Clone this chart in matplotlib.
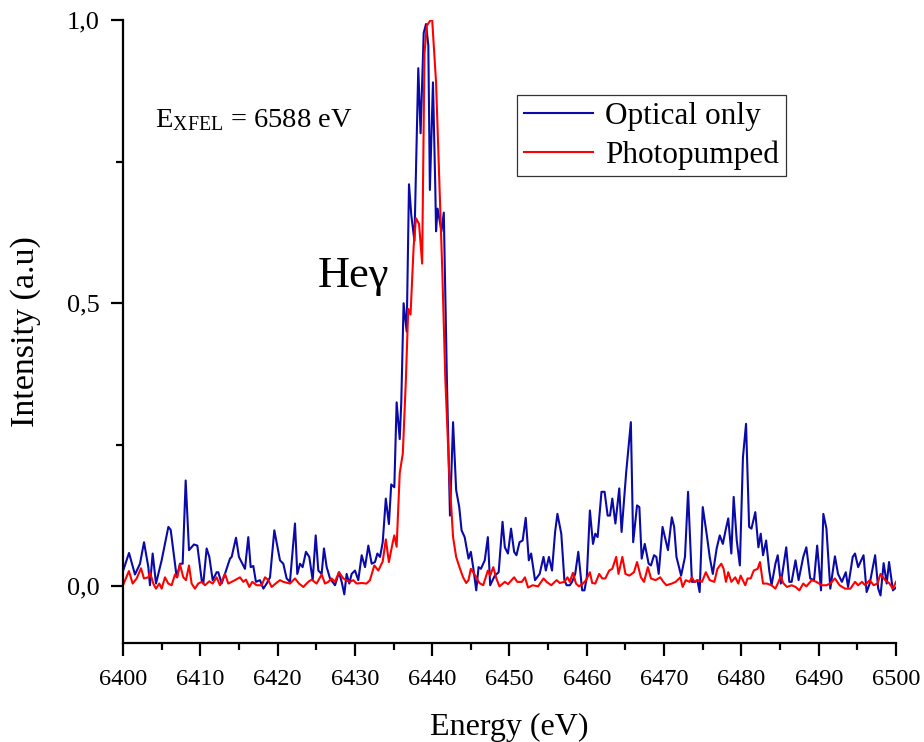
import matplotlib
matplotlib.use("Agg")
import matplotlib.pyplot as plt
from matplotlib.ticker import MultipleLocator, FuncFormatter

plt.rcParams['font.family'] = ['Liberation Serif', 'DejaVu Serif']
plt.rcParams['mathtext.fontset'] = 'custom'
plt.rcParams['mathtext.rm'] = 'Liberation Serif'
plt.rcParams['mathtext.it'] = 'Liberation Serif:italic'

# ---------------- data ----------------
optical_energy = [
    6400.0, 6400.78, 6401.55, 6402.2, 6402.72, 6403.28, 6403.49, 6403.84, 6404.27, 6405.0,
    6405.87, 6406.17, 6406.95, 6407.38, 6407.72, 6408.11, 6408.54, 6409.18, 6409.62, 6410.18,
    6410.39, 6410.82, 6411.17, 6411.6, 6412.12, 6412.33, 6412.76, 6413.19, 6413.84, 6414.06,
    6414.62, 6415.0, 6415.78, 6416.21, 6416.52, 6416.86, 6417.2, 6417.72, 6418.16, 6418.59,
    6419.02, 6419.58, 6420.1, 6420.31, 6420.74, 6421.17, 6421.6, 6422.25, 6422.55, 6422.9,
    6423.24, 6423.67, 6424.1, 6424.54, 6424.93, 6425.27, 6425.7, 6426.0, 6426.35, 6426.78,
    6427.43, 6427.94, 6428.29, 6428.63, 6428.93, 6429.28, 6429.58, 6430.01, 6430.44, 6430.88,
    6431.31, 6431.74, 6432.17, 6432.6, 6432.91, 6433.25,
    6433.6, 6434.0, 6434.4, 6434.7, 6435.1, 6435.4, 6435.8, 6436.0, 6436.3, 6436.7,
    6437.0, 6437.3, 6437.7, 6438.2, 6438.5, 6438.7, 6438.9, 6439.2, 6439.5, 6439.7,
    6440.1, 6440.4, 6440.5, 6440.7, 6441.2, 6441.5, 6441.9,
    6442.3, 6442.7, 6443.1, 6443.5, 6443.8, 6444.2, 6444.7, 6445.0, 6445.3, 6445.7,
    6446.0, 6446.3, 6446.8, 6447.2, 6447.5, 6448.1, 6448.6, 6449.1, 6449.4, 6449.8,
    6450.2, 6450.6, 6450.9, 6451.3, 6451.7, 6452.1, 6452.5, 6452.8, 6453.3, 6453.9,
    6454.4, 6454.7, 6455.1, 6455.5, 6455.9, 6456.2, 6456.7, 6457.1, 6457.4, 6457.8,
    6458.1, 6458.5, 6458.9, 6459.4, 6459.7, 6460.0, 6460.4, 6460.8, 6461.1, 6461.4,
    6461.9, 6462.3, 6462.7, 6463.0, 6463.3, 6463.7, 6464.2, 6464.5, 6465.1, 6465.7,
    6466.0, 6466.5, 6466.8, 6467.1, 6467.5, 6468.0, 6468.3, 6468.7, 6469.0, 6469.3,
    6469.8, 6470.5, 6471.0, 6471.3, 6471.6, 6472.2, 6472.7, 6473.1, 6473.6, 6474.0,
    6474.3, 6474.6, 6475.0, 6475.5, 6475.9, 6476.3, 6476.8, 6477.2, 6477.6, 6478.0,
    6478.3, 6478.7, 6479.0, 6479.4, 6479.8, 6480.2, 6480.6, 6481.0, 6481.3, 6481.8,
    6482.2, 6482.5, 6482.8, 6483.2, 6483.6, 6483.9, 6484.4, 6484.7, 6485.1, 6485.8,
    6486.2, 6486.5, 6487.0, 6487.4, 6488.0, 6488.4, 6488.9, 6489.4, 6489.8, 6490.3,
    6490.6, 6491.0, 6491.5, 6492.1, 6492.5, 6493.0, 6493.5, 6493.8, 6494.4, 6494.7,
    6495.1, 6495.8, 6496.2, 6496.6, 6497.3, 6497.7, 6498.0, 6498.4, 6498.8, 6499.1,
    6499.6, 6500.0,
]
optical_intensity = [
    0.027, 0.059, 0.021, 0.040, 0.078, 0.034, 0.002, 0.058, 0.005, 0.046,
    0.105, 0.100, 0.016, 0.040, 0.040, 0.187, 0.064, 0.074, 0.072, 0.011,
    0.005, 0.067, 0.052, 0.011, 0.025, 0.025, 0.005, 0.022, 0.049, 0.052,
    0.086, 0.052, 0.031, 0.087, 0.034, 0.036, 0.008, 0.011, -0.004, 0.005,
    0.016, 0.099, 0.061, 0.046, 0.040, 0.014, 0.008, 0.111, 0.022, 0.040,
    0.034, 0.061, 0.052, 0.011, 0.090, 0.028, 0.022, 0.067, 0.034, 0.014,
    0.002, 0.025, 0.008, -0.014, 0.022, 0.005, 0.022, 0.028, 0.011, 0.055,
    0.034, 0.072, 0.040, 0.043, 0.058, 0.052,
    0.078, 0.155, 0.110, 0.180, 0.175, 0.325, 0.260, 0.325, 0.500, 0.450,
    0.710, 0.655, 0.610, 0.915, 0.800, 0.890, 0.977, 0.993, 0.955, 0.700,
    0.890, 0.705, 0.627, 0.667, 0.627, 0.660, 0.366,
    0.125, 0.290, 0.170, 0.140, 0.099, 0.087, 0.049, 0.061, 0.034, -0.007,
    0.034, 0.031, 0.046, 0.087, 0.002, 0.019, 0.025, 0.114, 0.069, 0.058,
    0.102, 0.061, 0.055, 0.078, 0.081, 0.121, 0.046, 0.058, 0.011, 0.022,
    0.052, 0.028, 0.052, 0.028, 0.096, 0.128, 0.093, 0.011, 0.002, 0.002,
    0.008, 0.022, 0.061, -0.007, -0.007, 0.016, 0.134, 0.075, 0.093, 0.087,
    0.167, 0.167, 0.125, 0.125, 0.155, 0.111, 0.173, 0.096, 0.202, 0.290,
    0.078, 0.143, 0.140, 0.049, 0.075, 0.040, 0.037, 0.055, 0.052, 0.022,
    0.105, 0.064, 0.122, 0.105, 0.052, 0.019, 0.052, 0.167, 0.008, 0.008,
    0.011, -0.010, 0.140, 0.093, 0.052, 0.022, 0.067, 0.090, 0.075, 0.102,
    0.120, 0.058, 0.158, 0.081, 0.037, 0.228, 0.287, 0.105, 0.102, 0.131,
    0.069, 0.093, 0.055, 0.081, 0.028, 0.002, 0.040, 0.055, 0.005, 0.069,
    0.008, 0.008, 0.046, 0.011, 0.052, 0.069, 0.014, 0.011, 0.072, -0.007,
    0.128, 0.102, -0.004, 0.053, 0.022, 0.008, 0.025, -0.001, 0.052, 0.058,
    0.034, 0.055, -0.010, 0.005, 0.055, -0.004, -0.016, 0.041, 0.005, 0.043,
    -0.007, -0.002,
]

pumped_energy = [
    6400.0, 6400.77, 6401.25, 6401.77, 6402.33, 6402.71, 6403.28, 6403.49, 6403.92, 6404.27,
    6404.7, 6405.0, 6405.43, 6405.86, 6406.29, 6406.73, 6407.03, 6407.37, 6407.8, 6408.15,
    6408.54, 6408.88, 6409.31, 6409.74, 6410.17, 6410.61, 6411.17, 6411.6, 6412.11, 6412.55,
    6413.19, 6413.62, 6414.49, 6415.13, 6415.57, 6415.91, 6416.34, 6416.73, 6417.29, 6417.94,
    6418.37, 6418.8, 6419.23, 6419.75, 6420.31, 6420.74, 6421.6, 6422.25, 6422.77, 6423.33,
    6423.97, 6424.4, 6425.05, 6425.7, 6426.13, 6426.56, 6426.99, 6427.42, 6427.94, 6428.5,
    6428.85, 6429.36, 6429.79, 6430.23, 6430.87, 6431.5, 6431.95, 6432.51, 6433.03,
    6433.6, 6434.0, 6434.4, 6434.9, 6435.1, 6435.4, 6435.8, 6436.2, 6436.6, 6436.9,
    6437.2, 6437.6, 6437.9, 6438.3, 6438.7, 6439.0, 6439.3, 6439.8, 6440.0, 6440.5,
    6440.9, 6441.3, 6441.7, 6442.2,
    6442.7, 6443.1, 6443.6, 6444.0, 6444.4, 6444.7, 6445.0, 6445.3, 6445.7, 6446.1,
    6446.6, 6447.2, 6447.5, 6447.9, 6448.3, 6448.7, 6449.4, 6449.8, 6450.6, 6451.0,
    6451.6, 6452.0, 6452.4, 6453.0, 6453.7, 6454.4, 6454.8, 6455.4, 6456.1, 6456.5,
    6457.1, 6457.5, 6457.8, 6458.2, 6458.6, 6459.0, 6459.5, 6459.9, 6460.4, 6460.7,
    6461.1, 6461.6, 6462.0, 6462.4, 6462.9, 6463.3, 6463.8, 6464.1, 6464.6, 6465.0,
    6465.5, 6466.1, 6466.5, 6467.0, 6467.4, 6467.9, 6468.3, 6468.9,
    6469.5, 6469.9, 6470.3, 6471.0, 6471.5, 6472.1, 6472.4, 6472.8, 6473.3, 6473.6,
    6473.9, 6474.4, 6474.9, 6475.4, 6475.9, 6476.5, 6476.9, 6477.4, 6477.7, 6478.0,
    6478.3, 6478.7, 6479.2, 6479.6, 6479.9, 6480.5, 6480.8, 6481.2, 6481.6, 6482.1,
    6482.4, 6482.8, 6483.3, 6483.9, 6484.4, 6484.8, 6485.1, 6485.4, 6485.9, 6486.5,
    6487.0, 6487.5, 6488.0, 6488.4, 6489.1, 6489.7, 6490.4, 6491.0, 6491.5, 6492.1,
    6492.7, 6493.4, 6494.1, 6494.7, 6495.1, 6495.6, 6496.0, 6496.6, 6497.1, 6497.6,
    6498.0, 6498.6, 6499.1, 6499.6, 6500.0,
]
pumped_intensity = [
    0.002, 0.027, 0.005, 0.014, 0.032, 0.014, 0.016, 0.025, 0.005, -0.004,
    0.005, -0.004, 0.016, 0.005, 0.002, 0.021, 0.016, 0.039, 0.016, 0.011,
    0.037, 0.005, -0.004, 0.005, 0.008, 0.002, 0.009, 0.005, 0.016, 0.002,
    0.022, 0.005, 0.011, 0.016, 0.008, 0.012, -0.001, 0.008, 0.002, 0.002,
    0.016, 0.011, -0.001, 0.005, 0.011, 0.008, 0.005, 0.014, 0.005, -0.001,
    0.008, 0.012, 0.005, 0.021, 0.005, 0.008, 0.014, 0.008, 0.025, 0.014,
    0.011, 0.008, 0.011, 0.005, 0.006, 0.005, 0.011, 0.037, 0.028,
    0.044, 0.083, 0.043, 0.078, 0.090, 0.070, 0.200, 0.235, 0.366, 0.490,
    0.480, 0.600, 0.650, 0.640, 0.570, 0.940, 0.990, 1.000, 1.000, 0.890,
    0.725, 0.560, 0.366, 0.200,
    0.087, 0.052, 0.031, 0.016, 0.006, 0.011, 0.031, 0.025, 0.016, 0.006,
    0.002, 0.028, 0.019, 0.034, 0.014, 0.000, 0.008, 0.004, 0.016, 0.008,
    0.008, 0.016, -0.002, 0.002, 0.000, 0.014, 0.008, 0.002, 0.011, 0.006,
    0.008, 0.016, 0.008, 0.024, 0.005, 0.000, 0.005, 0.011, 0.025, 0.006,
    0.005, 0.022, 0.014, 0.014, 0.028, 0.031, 0.052, 0.022, 0.052, 0.022,
    0.019, 0.025, 0.043, 0.016, 0.008, 0.034, 0.014, 0.011,
    0.016, 0.008, 0.002, 0.005, 0.008, 0.016, -0.001, 0.011, 0.008, 0.016,
    0.008, 0.011, 0.008, 0.025, 0.011, 0.008, 0.031, 0.040, 0.031, 0.008,
    0.025, 0.008, 0.016, 0.005, 0.019, 0.002, 0.014, 0.014, 0.028, 0.031,
    0.043, 0.005, 0.005, 0.002, -0.004, 0.008, 0.018, 0.006, -0.001, 0.002,
    -0.001, -0.007, 0.005, 0.000, 0.011, 0.008, 0.002, 0.002, 0.005, 0.014,
    0.002, -0.004, -0.004, 0.008, 0.002, 0.008, 0.002, 0.011, 0.002, 0.005,
    0.022, 0.011, 0.006, -0.004, 0.008,
]

series_labels = ["Optical only", "Photopumped"]
series_colors = ["#0a0aa8", "#ff0000"]
x_ticks = [6400, 6410, 6420, 6430, 6440, 6450, 6460, 6470, 6480, 6490, 6500]
y_ticks = [0.0, 0.5, 1.0]

# ---------------- figure ----------------
fig = plt.figure(figsize=(9.24, 7.42), dpi=100)
ax = fig.add_axes([0.1331, 0.1334, 0.8366, 0.8396])

ax.plot(optical_energy, optical_intensity, color=series_colors[0], lw=1.5,
        label=series_labels[0])
ax.plot(pumped_energy, pumped_intensity, color=series_colors[1], lw=1.5,
        label=series_labels[1])

ax.set_xlim(6400, 6500)
ax.set_ylim(-0.1, 1.0)
ax.set_xticks(x_ticks)
ax.set_yticks(y_ticks)
ax.xaxis.set_minor_locator(MultipleLocator(5))
ax.yaxis.set_minor_locator(MultipleLocator(0.25))
ax.yaxis.set_major_formatter(FuncFormatter(lambda v, p: f"{v:.1f}".replace('.', ',')))

for s in ['top', 'right']:
    ax.spines[s].set_visible(False)
for s in ['left', 'bottom']:
    ax.spines[s].set_linewidth(1.6)

ax.tick_params(which='major', direction='out', length=9, width=1.6, pad=8)
ax.tick_params(axis='x', which='major', labelsize=17.5, pad=10)
ax.tick_params(axis='y', which='major', labelsize=19, pad=8)
ax.tick_params(which='minor', direction='out', length=5, width=1.6)

ax.set_xlabel("Energy (eV)", fontsize=23, labelpad=16)
ax.set_ylabel("Intensity (a.u)", fontsize=24.5, labelpad=18)

ax.text(6404.1, 0.811, r"E$_{\mathrm{XFEL}}$ = 6588 eV", fontsize=20.5, va='baseline', ha='left')
ax.text(6425.2, 0.528, "Heγ", fontsize=32, va='baseline', ha='left')

leg = ax.legend(loc='upper left', bbox_to_anchor=(0.51, 0.88), borderaxespad=0,
                fontsize=22.5, frameon=True, fancybox=False, shadow=False,
                handlelength=2.2, handletextpad=0.4, borderpad=0.22, labelspacing=0.3)
leg.get_frame().set_edgecolor('black')
leg.get_frame().set_linewidth(0.9)

fig.savefig("out.png", dpi=100)
